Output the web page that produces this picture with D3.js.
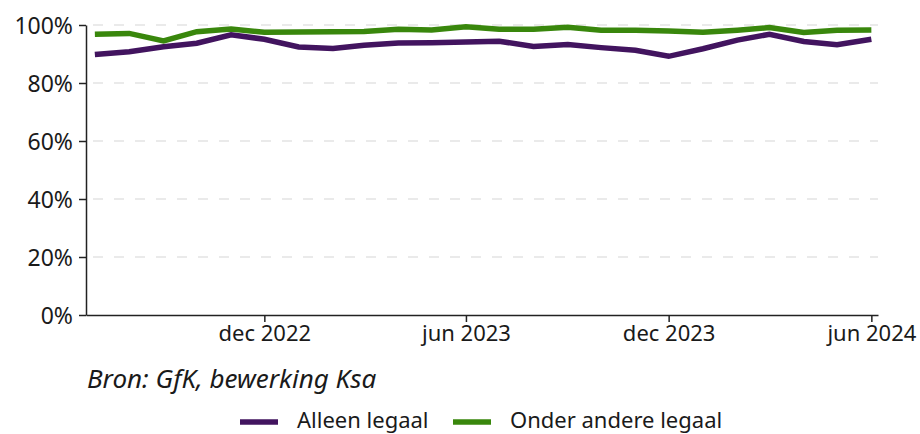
<!DOCTYPE html>
<html lang="nl">
<head>
    <meta charset="UTF-8">
    <title>Legaal aandeel</title>
    <script src="https://d3js.org/d3.v7.min.js"></script>
    <style>
        body { margin: 0; background: #fff; }
        svg text { font-family: "Noto Sans", sans-serif; fill: #1a1a1a; }
    </style>
</head>
<body>
<div id="chart"></div>
<script>
    // Maanden (jul 2022 - jun 2024)
    var months = ["2022-07", "2022-08", "2022-09", "2022-10", "2022-11", "2022-12",
                  "2023-01", "2023-02", "2023-03", "2023-04", "2023-05", "2023-06",
                  "2023-07", "2023-08", "2023-09", "2023-10", "2023-11", "2023-12",
                  "2024-01", "2024-02", "2024-03", "2024-04", "2024-05", "2024-06"];

    var alleenLegaal = [89.8, 90.8, 92.5, 93.7, 96.6, 95.1, 92.4, 91.9, 93.0, 93.8, 93.9, 94.1,
                        94.4, 92.6, 93.3, 92.2, 91.3, 89.2, 91.8, 94.8, 96.8, 94.3, 93.2, 95.1];
    var onderAndereLegaal = [96.8, 97.1, 94.5, 97.7, 98.6, 97.5, 97.6, 97.7, 97.8, 98.5, 98.3, 99.4,
                             98.5, 98.5, 99.2, 98.2, 98.2, 97.9, 97.5, 98.2, 99.1, 97.4, 98.2, 98.3];

    var seriesNames = ["Alleen legaal", "Onder andere legaal"];
    var seriesColors = ["#42145f", "#39870c"];

    var yTicks = [0, 20, 40, 60, 80, 100];
    var xTickMonths = ["2022-12", "2023-06", "2023-12", "2024-06"];
    var xTickLabels = ["dec 2022", "jun 2023", "dec 2023", "jun 2024"];

    var width = 920, height = 434;
    var parseMonth = d3.timeParse("%Y-%m");

    var svg = d3.select("#chart").append("svg")
        .attr("width", width)
        .attr("height", height);

    var x = d3.scaleTime()
        .domain([new Date(2022, 5, 23), new Date(2024, 5, 7)])
        .range([86, 878]);

    var y = d3.scaleLinear()
        .domain([0, 100])
        .range([315, 25]);

    // Gridlines
    svg.append("g")
        .selectAll("line")
        .data(yTicks.filter(d => d > 0))
        .enter().append("line")
        .attr("x1", 93)
        .attr("x2", 878)
        .attr("y1", d => y(d))
        .attr("y2", d => y(d))
        .attr("stroke", "#e3e3e3")
        .attr("stroke-width", 1.5)
        .attr("stroke-dasharray", "10,11");

    // y-as
    var yAxis = svg.append("g")
        .attr("transform", "translate(86,0)")
        .call(d3.axisLeft(y).tickValues(yTicks).tickFormat(d => d + "%").tickSize(7).tickPadding(6).tickSizeOuter(0));
    yAxis.select(".domain").attr("stroke", "#222").attr("stroke-width", 1.5);
    yAxis.selectAll(".tick line").attr("stroke", "#222").attr("stroke-width", 1.5);
    yAxis.selectAll("text").style("font-size", "23px").attr("dy", "0.36em");

    // x-as
    var xAxis = svg.append("g")
        .attr("transform", "translate(0,315)")
        .call(d3.axisBottom(x)
            .tickValues(xTickMonths.map(parseMonth))
            .tickFormat((d, i) => xTickLabels[i])
            .tickSize(7).tickPadding(3).tickSizeOuter(0));
    xAxis.select(".domain").attr("stroke", "#222").attr("stroke-width", 1.5);
    xAxis.selectAll(".tick line").attr("stroke", "#222").attr("stroke-width", 1.5);
    xAxis.selectAll("text").style("font-size", "22px");

    // Lijnen
    var line = d3.line()
        .x((d, i) => x(parseMonth(months[i])))
        .y(d => y(d));

    [alleenLegaal, onderAndereLegaal].forEach(function(values, k) {
        svg.append("path")
            .datum(values)
            .attr("fill", "none")
            .attr("stroke", seriesColors[k])
            .attr("stroke-width", 5.5)
            .attr("stroke-linejoin", "miter")
            .attr("d", line);
    });

    // Bron
    svg.append("text")
        .attr("x", 87)
        .attr("y", 388)
        .style("font-size", "26px")
        .style("font-style", "italic")
        .text("Bron: GfK, bewerking Ksa");

    // Legenda
    var legendX = [240, 453];
    var legend = svg.selectAll(".legend")
        .data(seriesNames)
        .enter().append("g")
        .attr("class", "legend")
        .attr("transform", (d, i) => "translate(" + legendX[i] + ",0)");

    legend.append("line")
        .attr("x1", 0).attr("x2", 38)
        .attr("y1", 422).attr("y2", 422)
        .attr("stroke", (d, i) => seriesColors[i])
        .attr("stroke-width", 5.5);

    legend.append("text")
        .attr("x", 57)
        .attr("y", 428)
        .style("font-size", "22px")
        .text(d => d);
</script>
</body>
</html>
